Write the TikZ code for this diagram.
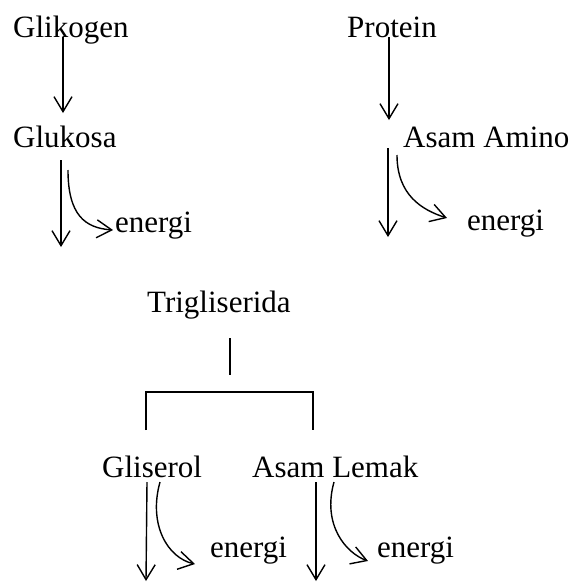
\documentclass[tikz,border=0pt]{standalone}
\usepackage{fontspec}
\setmainfont{Liberation Serif}
\usetikzlibrary{arrows.meta}

\begin{document}
\begin{tikzpicture}[x=1pt, y=-1pt,
    lbl/.style={anchor=base west, inner sep=0pt,
        font=\fontsize{31}{31}\selectfont},
    line/.style={line width=1.5pt},
    arr/.style={line width=1.4pt, -{Straight Barb[length=15pt,width=18pt]}}
]
    \useasboundingbox (0,0) rectangle (574,582);

    \node[lbl] (glikogen) at (13,37) {Glikogen};
    \node[lbl] (glukosa) at (13,147) {Glukosa};
    \node[lbl] (energiA) at (115,232) {energi};
    \node[lbl] (protein) at (347,37) {Protein};
    \node[lbl] (asamamino) at (403,147) {Asam Amino};
    \node[lbl] (energiB) at (467,230) {energi};
    \node[lbl] (trig) at (147,312) {Trigliserida};
    \node[lbl] (gliserol) at (102,477) {Gliserol};
    \node[lbl] (lemak) at (252,477) {Asam Lemak};
    \node[lbl] (energiC) at (210,557) {energi};
    \node[lbl] (energiD) at (377,557) {energi};

    \coordinate (glukosaout) at (61,247);
    \coordinate (aminoout) at (388,237);
    \coordinate (trigout) at (230,375);
    \coordinate (bar) at (230,392);
    \coordinate (gliserolout) at (146,581);
    \coordinate (lemakout) at (316,581);

    % glikogen
    \draw[arr] ([xshift=50pt]glikogen.base west) -- ([xshift=50pt,yshift=34pt]glukosa.base west);
    \draw[arr] ([xshift=48pt,yshift=-13pt]glukosa.base west) -- (glukosaout);
    \draw[arr] ([xshift=55pt,yshift=-23pt]glukosa.base west)
        .. controls +(0,45) and +(-28,-2) .. ([xshift=-2pt,yshift=2pt]energiA.base west);

    % protein
    \draw[arr] ([xshift=42pt]protein.base west) -- ([xshift=-14pt,yshift=27pt]asamamino.base west);
    \draw[arr] ([xshift=-15pt,yshift=-1pt]asamamino.base west) -- (aminoout);
    \draw[arr] ([xshift=-6pt,yshift=-8pt]asamamino.base west)
        .. controls +(0,40) and +(-25,-8) .. ([xshift=-20pt,yshift=12pt]energiB.base west);

    % trigliserida
    \draw[line] ([xshift=83pt,yshift=-26pt]trig.base west) -- (trigout);
    \draw[line] ([xshift=44pt,yshift=47pt]gliserol.base west) |- (bar)
        -| ([xshift=61pt,yshift=47pt]lemak.base west);

    \draw[arr] ([xshift=45pt,yshift=-5pt]gliserol.base west) -- (gliserolout);
    \draw[arr] ([xshift=58pt,yshift=-5pt]gliserol.base west)
        .. controls +(-12,43) and +(-27,-6) .. ([xshift=-15pt,yshift=-7pt]energiC.base west);
    \draw[arr] ([xshift=64pt,yshift=-5pt]lemak.base west) -- (lemakout);
    \draw[arr] ([xshift=82pt,yshift=-5pt]lemak.base west)
        .. controls +(-12,43) and +(-22,-8) .. ([xshift=-9pt,yshift=-4pt]energiD.base west);
\end{tikzpicture}
\end{document}
